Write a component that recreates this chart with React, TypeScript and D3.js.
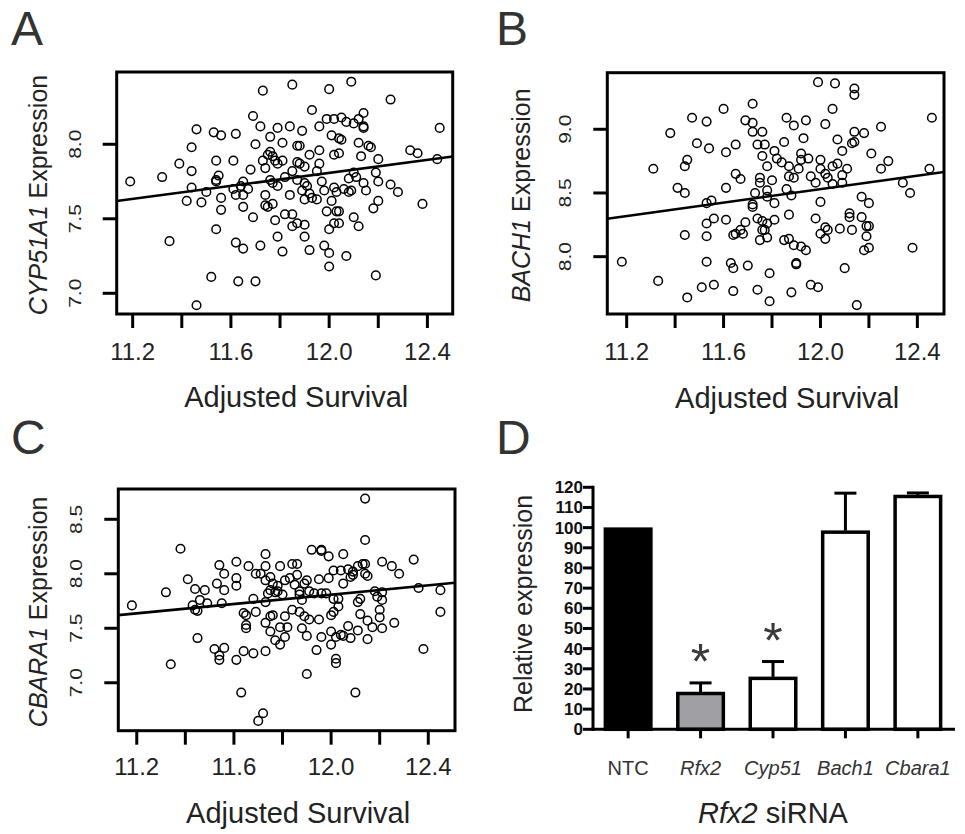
import { useEffect, useRef } from 'react';
import * as d3 from 'd3';

const FONT = '"Liberation Sans", Arial, Helvetica, sans-serif';
const INK = '#222';

// ── Panel A: CYP51A1 expression vs adjusted survival ─────────────
const cypPoints: [number, number][] = [
  [11.73, 8.36], [11.85, 8.40], [12.00, 8.37], [12.09, 8.42], [12.25, 8.30],
  [11.69, 8.19], [11.93, 8.23], [12.14, 8.21],
  [11.46, 8.10], [11.53, 8.08], [11.56, 8.06], [11.62, 8.07], [11.72, 8.12], [11.79, 8.11], [11.84, 8.12],
  [11.89, 8.09], [11.96, 8.12], [11.99, 8.17], [12.02, 8.17], [12.05, 8.18], [12.07, 8.15], [12.10, 8.14],
  [12.12, 8.17], [12.14, 8.12], [12.14, 8.11], [12.45, 8.11],
  [11.44, 7.98], [11.70, 8.00], [11.76, 8.05], [11.81, 8.01], [11.87, 7.99], [11.88, 7.99], [12.01, 8.06],
  [12.04, 8.04], [12.05, 8.03], [12.12, 8.01], [12.16, 7.99], [12.17, 7.98],
  [11.39, 7.87], [11.44, 7.82], [11.54, 7.89], [11.61, 7.89], [11.68, 7.83], [11.73, 7.89], [11.75, 7.93],
  [11.76, 7.95], [11.77, 7.92], [11.78, 7.89], [11.79, 7.87], [11.81, 7.89], [11.87, 7.88], [11.88, 7.87],
  [11.90, 7.85], [11.92, 7.93], [11.96, 7.87], [11.96, 7.96], [12.02, 7.93], [12.04, 7.94], [12.13, 7.92],
  [12.20, 7.90], [12.33, 7.96], [12.36, 7.94], [12.44, 7.90],
  [11.19, 7.75], [11.32, 7.78], [11.55, 7.79], [11.54, 7.76], [11.54, 7.75], [11.65, 7.75], [11.74, 7.84],
  [11.76, 7.76], [11.77, 7.74], [11.79, 7.72], [11.82, 7.78], [11.85, 7.82], [11.87, 7.76], [11.90, 7.74],
  [11.91, 7.72], [11.95, 7.82], [11.97, 7.75], [11.98, 7.69], [12.02, 7.71], [12.03, 7.68], [12.06, 7.70],
  [12.08, 7.77], [12.09, 7.69], [12.10, 7.81], [12.11, 7.78], [12.14, 7.74], [12.15, 7.69], [12.19, 7.81],
  [12.20, 7.75], [12.25, 7.73],
  [11.42, 7.62], [11.48, 7.61], [11.44, 7.71], [11.50, 7.68], [11.61, 7.70], [11.64, 7.72], [11.67, 7.70],
  [11.62, 7.66], [11.65, 7.66], [11.56, 7.64], [11.56, 7.56], [11.74, 7.66], [11.74, 7.59], [11.75, 7.58],
  [11.77, 7.60], [11.84, 7.66], [11.89, 7.69], [11.90, 7.63], [11.92, 7.67], [11.93, 7.64], [11.95, 7.63],
  [11.99, 7.55], [12.01, 7.62], [12.03, 7.55], [12.08, 7.68], [12.18, 7.57], [12.20, 7.62], [12.28, 7.68],
  [12.38, 7.60],
  [11.54, 7.43], [11.65, 7.58], [11.69, 7.51], [11.78, 7.49], [11.82, 7.53], [11.85, 7.53], [11.85, 7.45],
  [11.87, 7.47], [11.90, 7.46], [11.90, 7.38], [12.00, 7.43], [12.04, 7.47], [12.02, 7.47], [12.10, 7.51],
  [12.12, 7.45], [12.04, 7.55],
  [11.35, 7.35], [11.62, 7.34], [11.65, 7.30], [11.72, 7.32], [11.79, 7.38], [11.81, 7.28], [11.92, 7.29],
  [11.98, 7.32], [12.00, 7.27], [12.00, 7.18], [12.07, 7.25],
  [11.52, 7.11], [11.63, 7.08], [11.70, 7.08], [12.19, 7.12], [11.46, 6.92],
];
const cypFit = { intercept: 5.192, slope: 0.218 };

// ── Panel B: BACH1 expression vs adjusted survival ───────────────
const bachPoints: [number, number][] = [
  [11.99, 9.37], [12.06, 9.36], [12.14, 9.32], [12.14, 9.27], [12.05, 9.16], [11.72, 9.20], [11.60, 9.16],
  [11.47, 9.09], [11.53, 9.06], [11.69, 9.07], [11.72, 9.05], [11.86, 9.09], [11.89, 9.03], [11.94, 9.07],
  [12.02, 9.04], [12.46, 9.09], [12.25, 9.02],
  [11.38, 8.97], [11.49, 8.89], [11.54, 8.85], [11.61, 8.82], [11.65, 8.88], [11.72, 8.98], [11.76, 8.98],
  [11.74, 8.88], [11.77, 8.88], [11.81, 8.83], [11.85, 8.90], [11.93, 8.93], [12.07, 8.92], [12.09, 8.83],
  [12.13, 8.89], [12.14, 8.98], [12.14, 8.90], [12.18, 8.97], [12.21, 8.81],
  [11.31, 8.69], [11.44, 8.71], [11.45, 8.76], [11.61, 8.54], [11.65, 8.65], [11.67, 8.61], [11.76, 8.79],
  [11.78, 8.71], [11.82, 8.77], [11.84, 8.74], [11.87, 8.71], [11.92, 8.81], [11.92, 8.76], [11.95, 8.77],
  [12.00, 8.76], [12.05, 8.71], [12.07, 8.73], [12.11, 8.69], [12.25, 8.69], [12.28, 8.75], [12.45, 8.69],
  [11.41, 8.54], [11.44, 8.50], [11.53, 8.42], [11.55, 8.44], [11.75, 8.62], [11.75, 8.58], [11.78, 8.52],
  [11.80, 8.60], [11.86, 8.53], [11.87, 8.63], [11.89, 8.62], [11.91, 8.69], [11.96, 8.63], [11.98, 8.58],
  [12.00, 8.69], [12.02, 8.65], [12.03, 8.62], [12.05, 8.57], [12.09, 8.58], [12.09, 8.64], [12.34, 8.58],
  [12.37, 8.50], [12.17, 8.47], [12.20, 8.42],
  [11.73, 8.50], [11.78, 8.47], [11.81, 8.42], [11.88, 8.48], [12.00, 8.43], [11.72, 8.39], [11.72, 8.41],
  [11.53, 8.26], [11.56, 8.30], [11.61, 8.29], [11.69, 8.27], [11.67, 8.21], [11.74, 8.30], [11.76, 8.28],
  [11.78, 8.26], [11.81, 8.29], [11.87, 8.33], [11.98, 8.30], [12.02, 8.23], [12.03, 8.21], [12.08, 8.22],
  [12.12, 8.34], [12.12, 8.31], [12.17, 8.31], [12.13, 8.21],
  [11.44, 8.17], [11.53, 8.16], [11.64, 8.17], [11.65, 8.18], [11.68, 8.18], [11.76, 8.21], [11.77, 8.21],
  [11.78, 8.15], [11.75, 8.13], [11.85, 8.13], [11.87, 8.14], [11.89, 8.09], [11.92, 8.08], [11.94, 8.05],
  [12.00, 8.18], [12.02, 8.14], [12.19, 8.24], [12.20, 8.24], [12.19, 8.16], [12.20, 8.07], [12.18, 8.05],
  [12.38, 8.07],
  [11.18, 7.96], [11.53, 7.96], [11.63, 7.95], [11.64, 7.91], [11.70, 7.93], [11.79, 7.87], [11.90, 7.95],
  [12.10, 7.91], [11.90, 7.94],
  [11.33, 7.81], [11.51, 7.76], [11.56, 7.78], [11.64, 7.73], [11.74, 7.74], [11.79, 7.65], [11.88, 7.72],
  [11.96, 7.78], [11.99, 7.76], [11.45, 7.68], [12.15, 7.62],
];
const bachFit = { intercept: 5.362, slope: 0.264 };

// ── Panel C: CBARA1 expression vs adjusted survival ──────────────
const cbaraPoints: [number, number][] = [
  [12.14, 8.69], [12.14, 8.31], [11.38, 8.23], [11.92, 8.22], [11.96, 8.22], [11.96, 8.21], [11.73, 8.18],
  [12.05, 8.18], [12.34, 8.13], [11.61, 8.11], [11.84, 8.09], [11.86, 8.09], [12.13, 8.09], [12.14, 8.09],
  [12.21, 8.11], [11.54, 8.08], [11.66, 8.07], [11.73, 8.07], [11.79, 8.07], [12.25, 8.07],
  [11.56, 8.00], [11.69, 8.00], [11.71, 8.00], [11.75, 7.97], [11.86, 7.99], [11.99, 8.16], [12.07, 8.04],
  [12.09, 8.02], [12.11, 8.07], [12.28, 8.00], [12.14, 8.00], [12.15, 7.98],
  [11.61, 7.96], [11.41, 7.95], [11.44, 7.86], [11.48, 7.85], [11.53, 7.91], [11.56, 7.85], [11.61, 7.89],
  [11.73, 7.94], [11.76, 7.91], [11.78, 7.89], [11.81, 7.94], [11.83, 7.96], [11.85, 7.90], [11.89, 7.91],
  [11.90, 7.94], [11.95, 7.95], [11.99, 7.96], [12.01, 8.03], [12.04, 8.03], [12.05, 7.91], [12.08, 7.97],
  [12.09, 7.99], [12.36, 7.87], [12.45, 7.85], [11.32, 7.83],
  [11.18, 7.71], [11.43, 7.71], [11.45, 7.66], [11.46, 7.76], [11.49, 7.73], [11.55, 7.73], [11.68, 7.77],
  [11.74, 7.82], [11.75, 7.85], [11.77, 7.83], [11.78, 7.84], [11.80, 7.81], [11.87, 7.84], [11.87, 7.81],
  [11.88, 7.76], [11.91, 7.84], [11.93, 7.82], [11.96, 7.82], [11.98, 7.82], [12.01, 7.77], [12.03, 7.77],
  [12.11, 7.74], [12.12, 7.77], [12.18, 7.84], [12.19, 7.79], [12.21, 7.83], [12.21, 7.76], [12.45, 7.65],
  [11.44, 7.67], [11.64, 7.64], [11.65, 7.62], [11.69, 7.65], [11.73, 7.74], [11.75, 7.61], [11.76, 7.62],
  [11.81, 7.61], [11.84, 7.67], [11.87, 7.65], [11.89, 7.61], [11.91, 7.58], [11.95, 7.58], [12.00, 7.62],
  [12.01, 7.65], [12.03, 7.70], [12.12, 7.63], [12.15, 7.57], [12.20, 7.60], [12.20, 7.67], [12.26, 7.55],
  [11.65, 7.53], [11.65, 7.50], [11.73, 7.55], [11.75, 7.47], [11.79, 7.51], [11.82, 7.51], [11.88, 7.50],
  [11.90, 7.43], [11.96, 7.42], [12.00, 7.47], [12.02, 7.42], [12.04, 7.44], [12.05, 7.43], [12.07, 7.52],
  [12.08, 7.41], [12.11, 7.48], [12.17, 7.51], [12.21, 7.50], [12.15, 7.40],
  [11.45, 7.41], [11.52, 7.31], [11.56, 7.32], [11.54, 7.25], [11.54, 7.21], [11.61, 7.21], [11.64, 7.29],
  [11.68, 7.27], [11.73, 7.29], [11.77, 7.39], [11.79, 7.35], [11.81, 7.42], [11.94, 7.30], [12.00, 7.35],
  [12.02, 7.22], [12.02, 7.18], [12.38, 7.31], [11.34, 7.17], [11.90, 7.08], [11.63, 6.91], [12.10, 6.91],
  [11.72, 6.72], [11.70, 6.65],
];
const cbaraFit = { intercept: 5.24, slope: 0.214 };

const survivalTicks = [11.2, 11.4, 11.6, 11.8, 12.0, 12.2, 12.4];
const survivalLabels = [11.2, 11.6, 12.0, 12.4];

// ── Panel D: qPCR after Rfx2 siRNA ───────────────────────────────
const barCategories = ['NTC', 'Rfx2', 'Cyp51', 'Bach1', 'Cbara1'];
const barValues = [100, 18.5, 26, 98.5, 116.2];
const barErrors = [0, 4.5, 7.6, 18.6, 1.0];
const barSignificant = [false, true, true, false, false];
const barTicks = [0, 10, 20, 30, 40, 50, 60, 70, 80, 90, 100, 110, 120];

type Scatter = {
  letter: string;
  letterPos: [number, number];
  gene: string;
  points: [number, number][];
  fit: { intercept: number; slope: number };
  xDomain: [number, number];
  yDomain: [number, number];
  yTicks: number[];
  box: { l: number; r: number; t: number; b: number };
  yTickX: number;
  yTitleX: number;
  xTickY: number;
  xTitleY: number;
};

const scatters: Scatter[] = [
  {
    letter: 'A', letterPos: [11, 45], gene: 'CYP51A1', points: cypPoints, fit: cypFit,
    xDomain: [11.135, 12.503], yDomain: [6.861, 8.485], yTicks: [7.0, 7.5, 8.0],
    box: { l: 116.7, r: 452.7, t: 72, b: 314 }, yTickX: 81, yTitleX: 47, xTickY: 360, xTitleY: 407,
  },
  {
    letter: 'B', letterPos: [496, 45], gene: 'BACH1', points: bachPoints, fit: bachFit,
    xDomain: [11.12, 12.51], yDomain: [7.55, 9.444], yTicks: [8.0, 8.5, 9.0],
    box: { l: 607.3, r: 944, t: 72.7, b: 314 }, yTickX: 571, yTitleX: 530, xTickY: 360, xTitleY: 408,
  },
  {
    letter: 'C', letterPos: [11, 454], gene: 'CBARA1', points: cbaraPoints, fit: cbaraFit,
    xDomain: [11.124, 12.51], yDomain: [6.56, 8.778], yTicks: [7.0, 7.5, 8.0, 8.5],
    box: { l: 118.3, r: 455, t: 489, b: 730.7 }, yTickX: 82, yTitleX: 47, xTickY: 775, xTitleY: 823,
  },
];

function drawScatter(root: any, p: Scatter) {
  const { box } = p;
  const x = d3.scaleLinear().domain(p.xDomain).range([box.l, box.r]);
  const y = d3.scaleLinear().domain(p.yDomain).range([box.b, box.t]);
  const g = root.append('g');

  g.append('text')
    .attr('x', p.letterPos[0]).attr('y', p.letterPos[1])
    .attr('font-size', 48).attr('fill', '#333').text(p.letter);

  // points
  g.append('g').selectAll('circle').data(p.points).join('circle')
    .attr('cx', (d: number[]) => x(d[0])).attr('cy', (d: number[]) => y(d[1]))
    .attr('r', 4.3).attr('fill', 'none').attr('stroke', '#000').attr('stroke-width', 1.5);

  // fitted line
  const [x0, x1] = p.xDomain;
  g.append('line')
    .attr('x1', x(x0)).attr('y1', y(p.fit.intercept + p.fit.slope * x0))
    .attr('x2', x(x1)).attr('y2', y(p.fit.intercept + p.fit.slope * x1))
    .attr('stroke', '#000').attr('stroke-width', 2.6);

  // box
  g.append('rect')
    .attr('x', box.l).attr('y', box.t)
    .attr('width', box.r - box.l).attr('height', box.b - box.t)
    .attr('fill', 'none').attr('stroke', '#000').attr('stroke-width', 3);

  // x axis
  g.append('g').selectAll('line').data(survivalTicks).join('line')
    .attr('x1', (d: number) => x(d)).attr('x2', (d: number) => x(d))
    .attr('y1', box.b).attr('y2', box.b + 14)
    .attr('stroke', '#000').attr('stroke-width', 3);
  g.append('g').selectAll('text').data(survivalLabels).join('text')
    .attr('x', (d: number) => x(d)).attr('y', p.xTickY)
    .attr('text-anchor', 'middle').attr('font-size', 24).attr('fill', INK)
    .text((d: number) => d3.format('.1f')(d));
  g.append('text')
    .attr('x', (box.l + box.r) / 2 + 11.5).attr('y', p.xTitleY)
    .attr('text-anchor', 'middle').attr('font-size', 29).attr('fill', INK)
    .text('Adjusted Survival');

  // y axis (labels are parallel to the axis and a little condensed)
  g.append('g').selectAll('line').data(p.yTicks).join('line')
    .attr('x1', box.l - 14).attr('x2', box.l)
    .attr('y1', (d: number) => y(d)).attr('y2', (d: number) => y(d))
    .attr('stroke', '#000').attr('stroke-width', 3);
  g.append('g').selectAll('text').data(p.yTicks).join('text')
    .attr('transform', (d: number) => `translate(${p.yTickX},${y(d)}) rotate(-90) scale(1,0.75)`)
    .attr('text-anchor', 'middle').attr('font-size', 21).attr('fill', INK)
    .text((d: number) => d3.format('.1f')(d));
  const yt = g.append('text')
    .attr('transform', `translate(${p.yTitleX},${(box.t + box.b) / 2 + 2}) rotate(-90)`)
    .attr('text-anchor', 'middle').attr('font-size', 25).attr('fill', INK);
  yt.append('tspan').attr('font-style', 'italic').text(p.gene);
  yt.append('tspan').text(' Expression');
}

function drawBars(root: any) {
  const g = root.append('g');
  const axisX = 593;
  const x = d3.scaleBand().domain(barCategories).range([axisX, 953]).paddingInner(0.33).paddingOuter(0.15);
  const y = d3.scaleLinear().domain([0, 120]).range([729.3, 487.3]);
  const fills = ['#000', '#a0a0a4', '#fff', '#fff', '#fff'];
  const bw = x.bandwidth();

  g.append('text').attr('x', 496).attr('y', 454)
    .attr('font-size', 48).attr('fill', '#333').text('D');

  const rows = barCategories.map((c, i) => ({ c, v: barValues[i], e: barErrors[i], s: barSignificant[i], f: fills[i] }));

  // error bars (drawn under the bars so the bar outline covers the stem base)
  rows.filter(d => d.e > 0).forEach(d => {
    const cx = (x(d.c) as number) + bw / 2;
    g.append('line').attr('x1', cx).attr('x2', cx).attr('y1', y(d.v)).attr('y2', y(d.v + d.e))
      .attr('stroke', '#000').attr('stroke-width', 3);
    g.append('line').attr('x1', cx - 11).attr('x2', cx + 11).attr('y1', y(d.v + d.e)).attr('y2', y(d.v + d.e))
      .attr('stroke', '#000').attr('stroke-width', 3);
  });

  g.append('g').selectAll('rect').data(rows).join('rect')
    .attr('x', (d: any) => (x(d.c) as number) + 1.5).attr('y', (d: any) => y(d.v) + 1.5)
    .attr('width', bw - 3).attr('height', (d: any) => y(0) - y(d.v) - 1.5)
    .attr('fill', (d: any) => d.f).attr('stroke', '#000').attr('stroke-width', 3.5);

  // significance stars
  g.append('g').selectAll('text').data(rows.filter(d => d.s)).join('text')
    .attr('x', (d: any) => (x(d.c) as number) + bw / 2)
    .attr('y', (d: any) => y(d.v + d.e) - 4)
    .attr('text-anchor', 'middle').attr('font-size', 50).attr('fill', '#3a3a3a')
    .text('*');

  // axes
  g.append('line').attr('x1', axisX).attr('x2', axisX).attr('y1', y(0) + 1.5).attr('y2', y(120) - 1.5)
    .attr('stroke', '#000').attr('stroke-width', 3);
  g.append('line').attr('x1', axisX - 1.5).attr('x2', 955).attr('y1', y(0)).attr('y2', y(0))
    .attr('stroke', '#000').attr('stroke-width', 3);
  g.append('g').selectAll('line').data(barTicks).join('line')
    .attr('x1', axisX - 10).attr('x2', axisX).attr('y1', (d: number) => y(d)).attr('y2', (d: number) => y(d))
    .attr('stroke', '#000').attr('stroke-width', 3);
  g.append('g').selectAll('text').data(barTicks).join('text')
    .attr('x', axisX - 10).attr('y', (d: number) => y(d) + 6)
    .attr('text-anchor', 'end').attr('font-size', 17).attr('font-weight', 700).attr('fill', '#111')
    .text((d: number) => d);
  g.append('g').selectAll('line').data(barCategories).join('line')
    .attr('x1', (d: string) => (x(d) as number) + bw / 2).attr('x2', (d: string) => (x(d) as number) + bw / 2)
    .attr('y1', y(0)).attr('y2', y(0) + 9)
    .attr('stroke', '#000').attr('stroke-width', 3);
  g.append('g').selectAll('text').data(barCategories).join('text')
    .attr('x', (d: string) => (x(d) as number) + bw / 2).attr('y', 775)
    .attr('text-anchor', 'middle').attr('font-size', 20).attr('fill', '#333')
    .attr('font-style', (d: string) => (d === 'NTC' ? 'normal' : 'italic'))
    .text((d: string) => d);

  g.append('text')
    .attr('transform', `translate(532,604) rotate(-90)`)
    .attr('text-anchor', 'middle').attr('font-size', 25).attr('fill', INK)
    .text('Relative expression');
  const xt = g.append('text').attr('x', 773).attr('y', 823)
    .attr('text-anchor', 'middle').attr('font-size', 29).attr('fill', INK);
  xt.append('tspan').attr('font-style', 'italic').text('Rfx2');
  xt.append('tspan').text(' siRNA');
}

export default function App() {
  const svgRef = useRef<SVGSVGElement | null>(null);

  useEffect(() => {
    const svg = d3.select(svgRef.current);
    svg.selectAll('*').remove();
    svg.append('rect').attr('width', 965).attr('height', 834).attr('fill', '#fff');
    const root = svg.append('g').attr('font-family', FONT);
    scatters.forEach(p => drawScatter(root, p));
    drawBars(root);
  }, []);

  return (
    <div style={{ position: 'absolute', left: 0, top: 0 }}>
      <svg ref={svgRef} width={965} height={834} style={{ display: 'block' }} />
    </div>
  );
}
